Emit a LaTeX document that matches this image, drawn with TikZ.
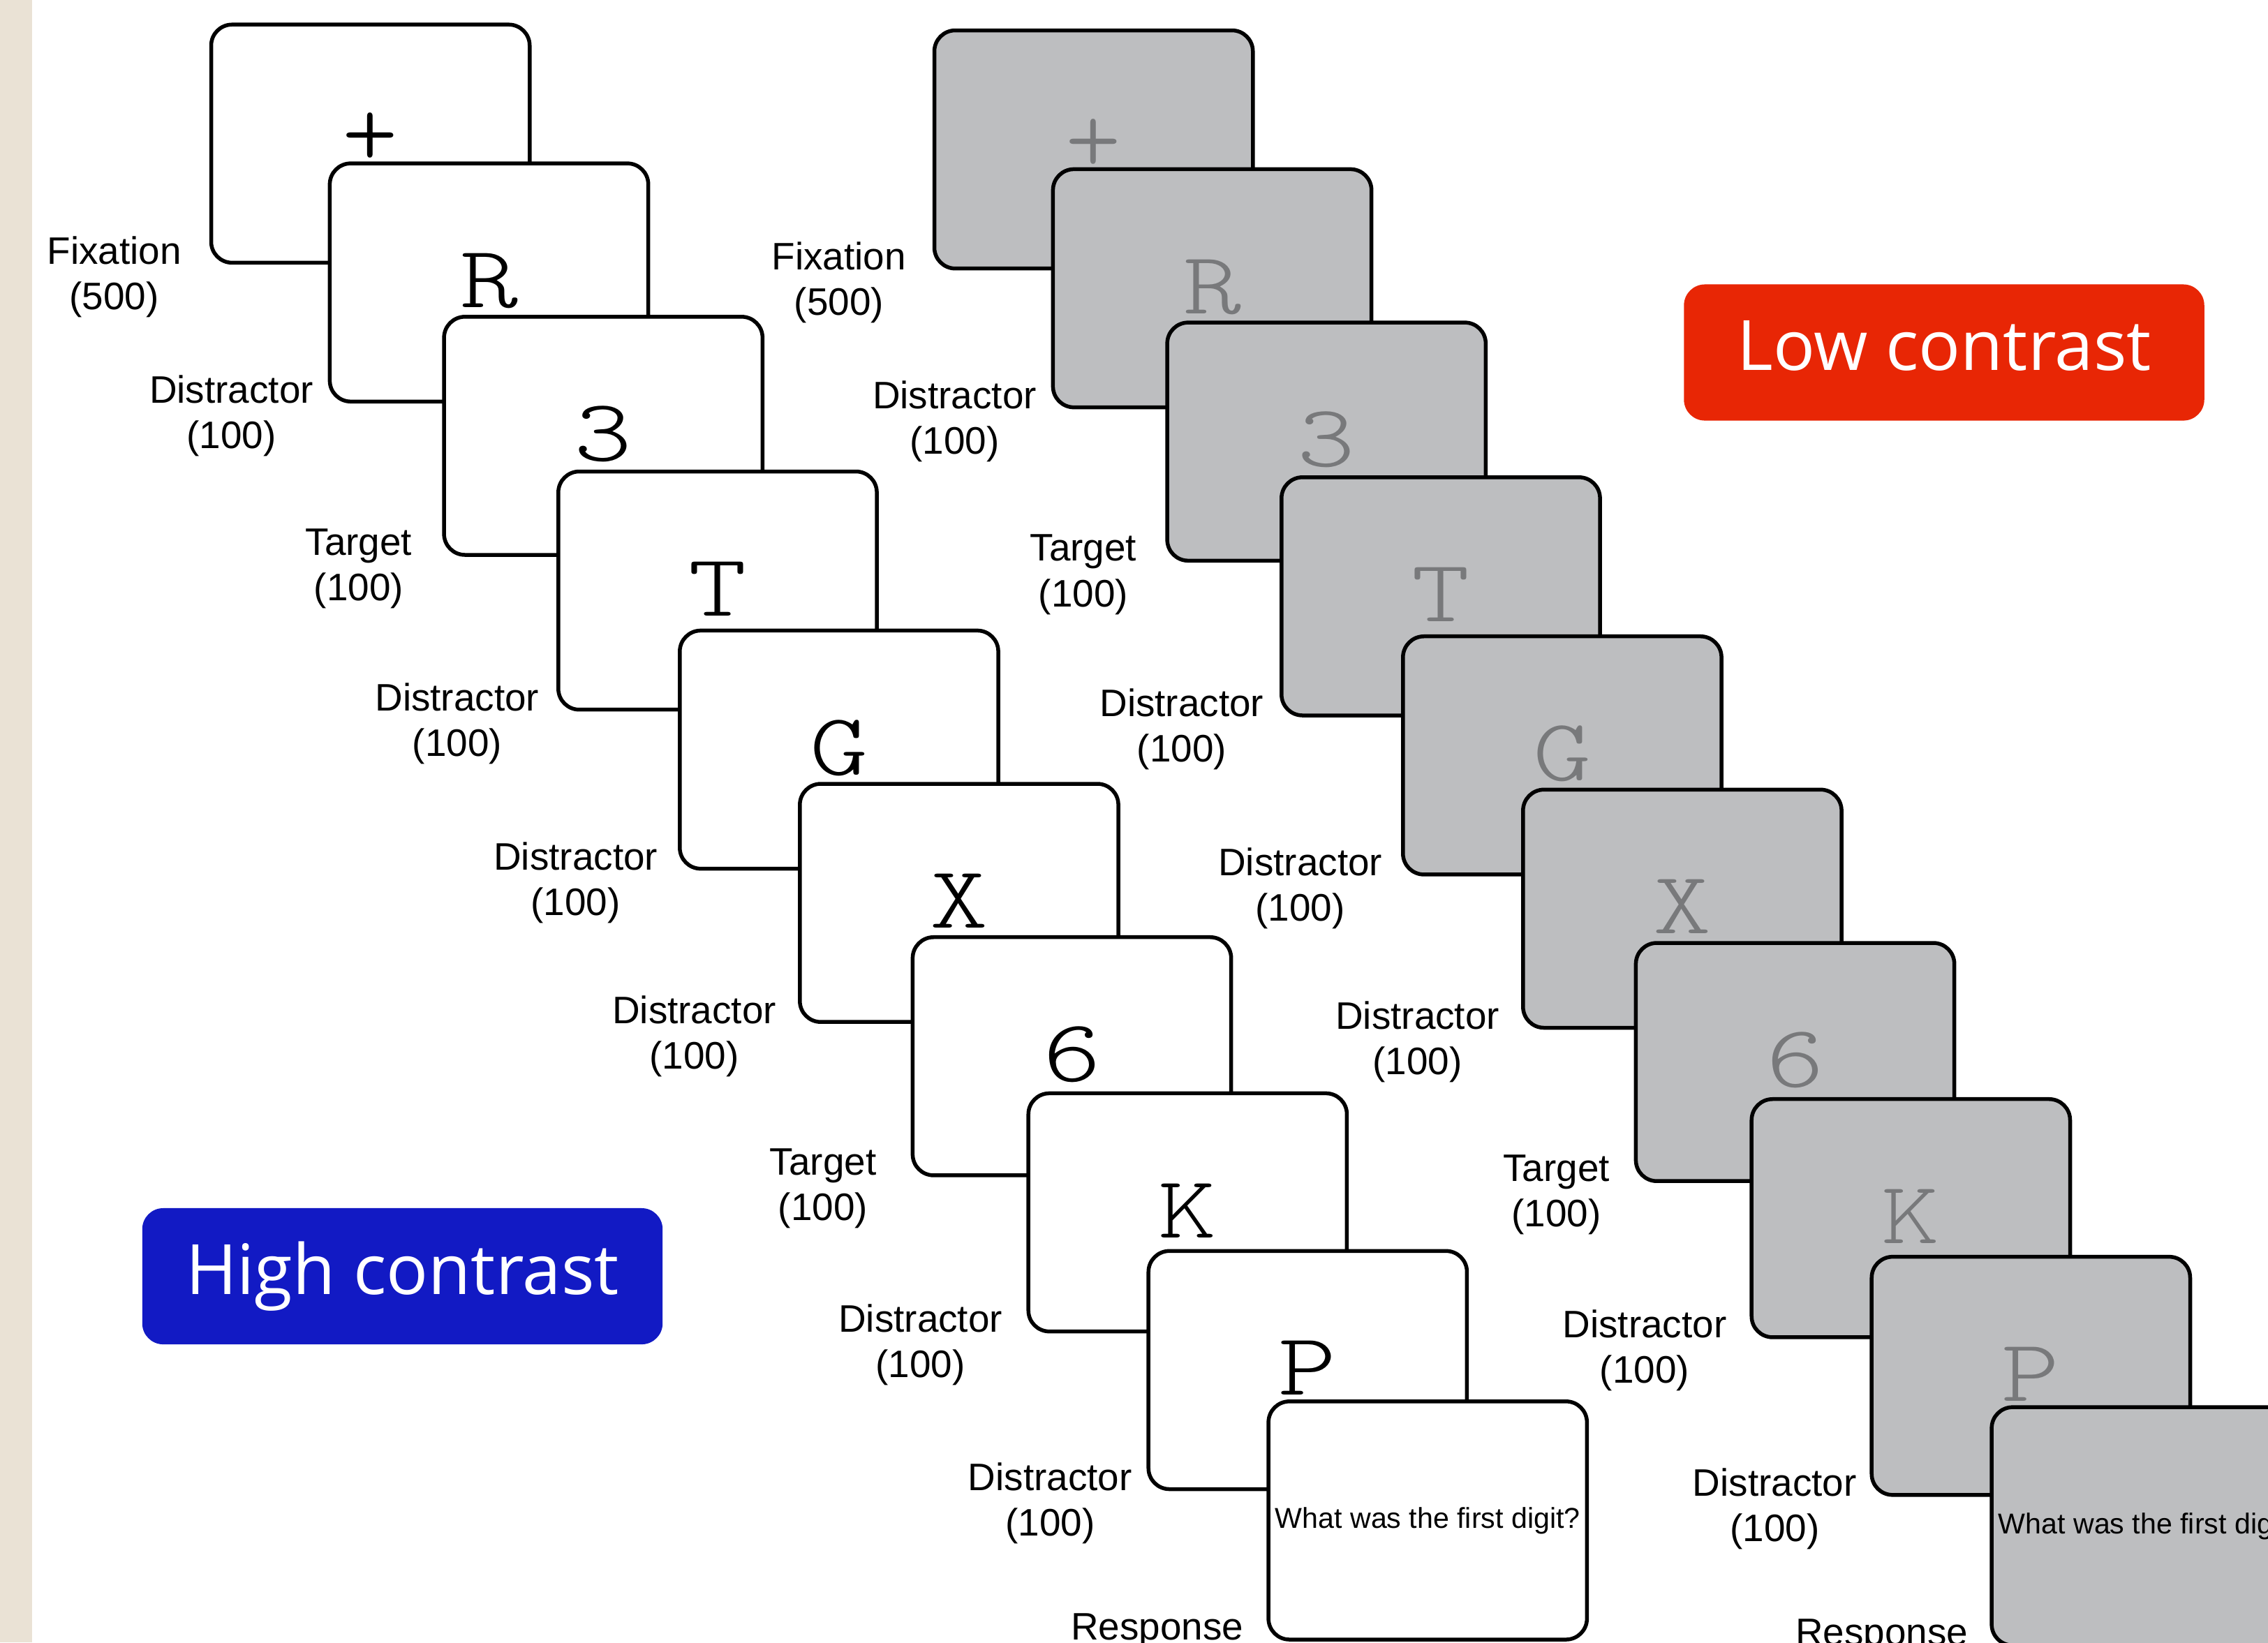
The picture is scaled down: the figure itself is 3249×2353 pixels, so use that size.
\documentclass[tikz,border=0pt]{standalone}
\usepackage{fontspec}
\usepackage{graphicx}
\newfontfamily\lblfont{Liberation Sans}
\newfontfamily\badgefont{Open Sans}
\newfontfamily\cardfont{lmmonolt10-regular.otf}
\definecolor{beigestrip}{RGB}{234,226,213}
\definecolor{cardgray}{RGB}{189,190,192}
\definecolor{glyphgray}{RGB}{120,121,123}
\definecolor{hiblue}{RGB}{18,26,196}
\definecolor{lored}{RGB}{232,38,5}
\begin{document}
\begin{tikzpicture}[x=0.01cm,y=-0.01cm,
  card/.style={draw=black, line width=0.055cm, rounded corners=0.3cm,
    minimum width=4.56cm, minimum height=3.41cm, inner sep=0pt, outer sep=0pt,
    anchor=north west, fill=white, font=\lblfont\fontsize{11.7}{14}\selectfont},
  graycard/.style={card, fill=cardgray},
  glyph/.style={inner sep=0pt, anchor=base, font=\cardfont\fontsize{36}{36}\selectfont},
  grayglyph/.style={glyph, text=glyphgray},
  lbl/.style={align=center, inner sep=0pt, font=\lblfont\fontsize{15.6}{18.5}\selectfont},
  badge/.style={rounded corners=0.3cm, minimum width=7.45cm, minimum height=1.95cm,
    inner sep=0pt, text=white, font=\badgefont\fontsize{28.3}{34}\selectfont,
    text height=21.5pt, text depth=6.8pt}]
\useasboundingbox (0,0) rectangle (3249,2353);
\clip (0,0) rectangle (3249,2353);
\fill[white] (0,0) rectangle (3249,2353);
\fill[beigestrip] (0,0) rectangle (46,2353);

% ---- high contrast stack ----
\node[card] (W1) at (302.5,35.2) {};
\node[glyph] (w1) at ([yshift=-0.33cm]W1.center) {\scalebox{1.2}[1.15]{+}};
\foreach \i/\x/\y/\g in {2/472.4/234.1/R,
  3/636.1/453.8/3, 4/799.8/675.5/T, 5/973.8/903.4/G,
  6/1145.8/1123.0/X, 7/1307.4/1342.7/6, 8/1473.2/1566.4/K,
  9/1645.2/1792.3/P}{
  \node[card] (W\i) at (\x,\y) {};
  \node[glyph] (w\i) at ([yshift=-0.36cm]W\i.center) {\scalebox{1.25}[1]{\g}};
}
\node[card] (W10) at (1817.1,2007.8) {What was the first digit?};

% ---- low contrast stack ----
\node[graycard] (G1) at (1338.5,43.5) {};
\node[grayglyph] (g1) at ([yshift=-0.33cm]G1.center) {\scalebox{1.2}[1.15]{+}};
\foreach \i/\x/\y/\g in {2/472.4/234.1/R,
  3/636.1/453.8/3, 4/799.8/675.5/T, 5/973.8/903.4/G,
  6/1145.8/1123.0/X, 7/1307.4/1342.7/6, 8/1473.2/1566.4/K,
  9/1645.2/1792.3/P}{
  \node[graycard] (G\i) at (\x+1036,\y+8.3) {};
  \node[grayglyph] (g\i) at ([yshift=-0.36cm]G\i.center) {\scalebox{1.25}[1]{\g}};
}
\node[graycard] (G10) at (2853.1,2016.1) {What was the first digit?};

% ---- labels, high contrast ----
\node[lbl] (a1) at (163.7,396.5) {Fixation\\(500)};
\node[lbl] (a2) at (331.5,595.4) {Distractor\\(100)};
\node[lbl] (a3) at (513.9,815) {Target\\(100)};
\node[lbl] (a4) at (654.8,1036.7) {Distractor\\(100)};
\node[lbl] (a5) at (824.7,1264.6) {Distractor\\(100)};
\node[lbl] (a6) at (994.6,1484.3) {Distractor\\(100)};
\node[lbl] (a7) at (1179,1703) {Target\\(100)};
\node[lbl] (a8) at (1318.6,1926.5) {Distractor\\(100)};
\node[lbl] (a9) at (1504.3,2153.5) {Distractor\\(100)};
\node[lbl, anchor=base] (a10) at (1657.6,2349) {Response};

% ---- labels, low contrast ----
\node[lbl] (b1) at (1201.8,404.8) {Fixation\\(500)};
\node[lbl] (b2) at (1367.5,603.7) {Distractor\\(100)};
\node[lbl] (b3) at (1551.9,823.3) {Target\\(100)};
\node[lbl] (b4) at (1692.8,1045) {Distractor\\(100)};
\node[lbl] (b5) at (1862.7,1272.9) {Distractor\\(100)};
\node[lbl] (b6) at (2030.6,1492.6) {Distractor\\(100)};
\node[lbl] (b7) at (2229.5,1711.3) {Target\\(100)};
\node[lbl] (b8) at (2355.9,1934.8) {Distractor\\(100)};
\node[lbl] (b9) at (2542.3,2161.8) {Distractor\\(100)};
\node[lbl, anchor=base] (b10) at (2695.7,2357) {Response};

% ---- badges ----
\node[badge, fill=hiblue] (hc) at (576.5,1828.5) {High contrast};
\node[badge, fill=lored] (lc) at (2785,505) {Low contrast};
\end{tikzpicture}
\end{document}
